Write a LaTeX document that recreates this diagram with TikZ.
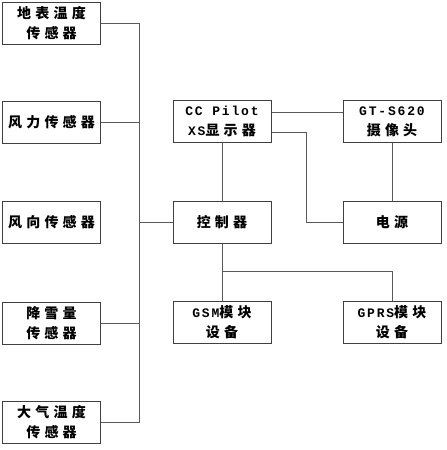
\documentclass[tikz,border=0pt]{standalone}
\usepackage{fontspec}
\newfontfamily\cjk[LetterSpace=30]{Noto Sans CJK SC}
\newfontfamily\lat[LetterSpace=14]{Liberation Mono}
\begin{document}
\begin{tikzpicture}[x=1pt,y=1pt,
  box/.style={draw=black!75, line width=1pt, minimum width=98pt, minimum height=42pt,
    inner sep=0pt, align=center, font=\cjk\bfseries\fontsize{14}{20}\selectfont},
  wire/.style={draw=black!65, line width=0.9pt}]
\useasboundingbox[fill=white] (0,0) rectangle (447,-450);
\node[box] (s1) at (51.5,-23) {地表温度\\传感器};
\node[box] (s2) at (51.5,-122) {风力传感器};
\node[box] (s3) at (51.5,-222.5) {风向传感器};
\node[box] (s4) at (51.5,-323.5) {降雪量\\传感器};
\node[box] (s5) at (51.5,-422.5) {大气温度\\传感器};
\node[box] (cc) at (222,-121.5) {{\lat\bfseries\fontsize{13}{20}\selectfont CC Pilot}\\{\lat\bfseries\fontsize{13}{20}\selectfont XS}显示器};
\node[box] (gt) at (392,-121.5) {{\lat\bfseries\fontsize{13}{20}\selectfont GT-S620}\\摄像头};
\node[box] (ctl) at (222,-222.5) {控制器};
\node[box] (pw) at (392,-222.5) {电源};
\node[box] (gsm) at (222,-322.5) {{\lat\bfseries\fontsize{13}{20}\selectfont GSM}模块\\设备};
\node[box] (gprs) at (392,-322.5) {{\lat\bfseries\fontsize{13}{20}\selectfont GPRS}模块\\设备};
\coordinate (bt) at (139,-23);
\coordinate (bb) at (139,-422.5);
\coordinate (split) at (222,-271);
\draw[wire] (s1.east) -- (bt) -- (bb) -- (s5.east);
\draw[wire] (s2.east) -- (s2.east -| bt);
\draw[wire] (s4.east) -- (s4.east -| bt);
\draw[wire] (s3.east -| bt) -- (ctl.west);
\draw[wire] ([yshift=9.5pt]cc.east) -- ([yshift=9.5pt]gt.west);
\draw[wire] ([yshift=-10.5pt]cc.east) -- ++(35,0) |- (pw.west);
\draw[wire] (cc.south) -- (ctl.north);
\draw[wire] (gt.south) -- (pw.north);
\draw[wire] (ctl.south) -- (gsm.north);
\draw[wire] (split) -| (gprs.north);
\end{tikzpicture}
\end{document}
